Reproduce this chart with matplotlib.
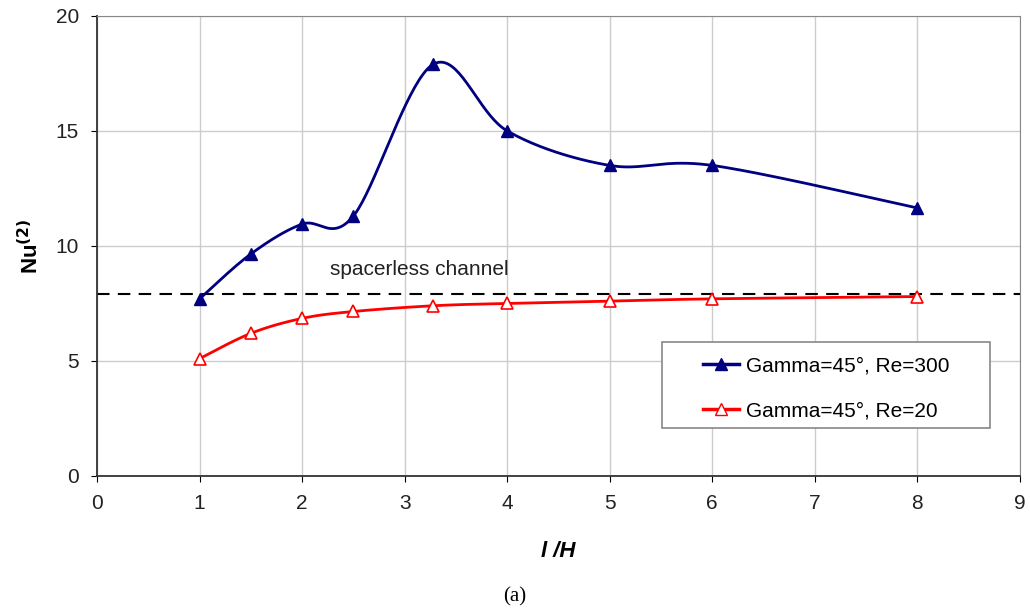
import matplotlib.pyplot as plt
from matplotlib.patches import Rectangle
import numpy as np

plt.rcParams['font.family'] = ['Liberation Sans', 'DejaVu Sans']

# data
lh = [1, 1.5, 2, 2.5, 3.28, 4, 5, 6, 8]
nu_re300 = [7.7, 9.65, 10.95, 11.3, 17.9, 15.0, 13.5, 13.5, 11.65]
nu_re20 = [5.1, 6.2, 6.85, 7.15, 7.4, 7.5, 7.6, 7.7, 7.8]
nu_spacerless = 7.9


def smooth(x, y, n=40):
    # Excel-style smoothed line: cubic bezier with catmull-rom control points
    x = np.asarray(x, float)
    y = np.asarray(y, float)
    px, py = [], []
    for i in range(len(x) - 1):
        i0 = max(i - 1, 0)
        i3 = min(i + 2, len(x) - 1)
        c1x = x[i] + (x[i + 1] - x[i0]) / 6
        c1y = y[i] + (y[i + 1] - y[i0]) / 6
        c2x = x[i + 1] - (x[i3] - x[i]) / 6
        c2y = y[i + 1] - (y[i3] - y[i]) / 6
        t = np.linspace(0, 1, n)
        b0, b1, b2, b3 = (1 - t) ** 3, 3 * t * (1 - t) ** 2, 3 * t ** 2 * (1 - t), t ** 3
        px.extend(b0 * x[i] + b1 * c1x + b2 * c2x + b3 * x[i + 1])
        py.extend(b0 * y[i] + b1 * c1y + b2 * c2y + b3 * y[i + 1])
    return px, py


fig = plt.figure(figsize=(10.3, 6.11), dpi=100)
ax = fig.add_axes([0.0942, 0.221, 0.896, 0.753])

ax.axhline(nu_spacerless, color='black', linestyle=(0, (6, 4)), linewidth=1.5, zorder=2)
ax.text(2.27, 8.75, 'spacerless channel', fontsize=15, color='#222222')

sx, sy = smooth(lh, nu_re300)
ax.plot(sx, sy, color='#000080', linewidth=2, zorder=3)
ax.plot(lh, nu_re300, linestyle='none', marker='^', markersize=9,
        color='#000080', zorder=4)
sx, sy = smooth(lh, nu_re20)
ax.plot(sx, sy, color='red', linewidth=2, zorder=3)
ax.plot(lh, nu_re20, linestyle='none', marker='^', markersize=9,
        markerfacecolor='white', markeredgecolor='red', markeredgewidth=1.2, zorder=4)

# legend handles
ax.plot([], [], color='#000080', linewidth=2.5, marker='^', markersize=9,
        label='Gamma=45°, Re=300')
ax.plot([], [], color='red', linewidth=2.5, marker='^', markersize=9,
        markerfacecolor='white', markeredgecolor='red', label='Gamma=45°, Re=20')
ax.add_patch(Rectangle((0.612, 0.104), 0.3555, 0.187, transform=ax.transAxes,
                       facecolor='white', edgecolor='#888888', linewidth=1.2, zorder=5))
leg = ax.legend(loc='center', bbox_to_anchor=(0.79, 0.19), fontsize=15,
                frameon=False, handlelength=1.75, handletextpad=0.3,
                labelspacing=1.25)
leg.set_zorder(6)

ax.set_xlim(0, 9)
ax.set_ylim(0, 20)
ax.set_xticks(range(0, 10))
ax.set_yticks([0, 5, 10, 15, 20])
ax.grid(True, color='#cccccc', linewidth=1)
ax.set_axisbelow(True)
ax.tick_params(labelsize=15, direction='out', length=4, pad=9, labelcolor='#222222')
for s in ['top', 'right']:
    ax.spines[s].set_color('#888888')
for s in ['left', 'bottom']:
    ax.spines[s].set_color('#333333')
    ax.spines[s].set_linewidth(1.3)

ax.set_xlabel('l /H', fontsize=16, fontweight='bold', fontstyle='italic', labelpad=20)
ax.set_ylabel('Nu$^{\\mathbf{(2)}}$', fontsize=16, fontweight='bold', labelpad=9)

fig.text(0.5, 0.016, '(a)', fontsize=15, family='Liberation Serif', ha='center')

fig.savefig('out.png', dpi=100)
